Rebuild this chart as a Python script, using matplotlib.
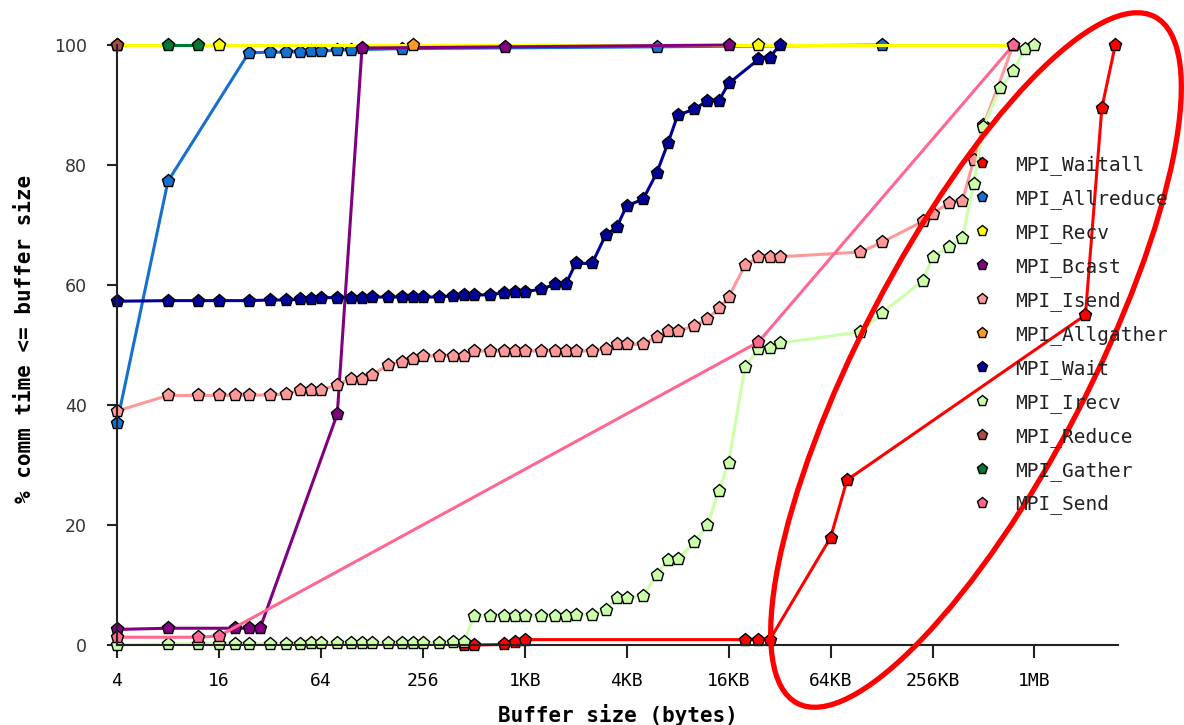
import matplotlib.pyplot as plt
from matplotlib.lines import Line2D
from matplotlib.patches import Ellipse

# buffer sizes (bytes) and % of comm time <= buffer size, per MPI call
waitall_x = [448, 512, 768, 896, 1024, 20480, 24576, 28672, 65536, 81920,
             2097152, 2621440, 3145728]
waitall_y = [0.0, 0.0, 0.1, 0.5, 0.9, 0.9, 0.9, 0.9, 17.9, 27.5, 55.0, 89.5, 100]

allreduce_x = [4, 8, 24, 32, 40, 48, 56, 64, 80, 96, 192, 6144, 131072]
allreduce_y = [37.0, 77.3, 98.7, 98.8, 98.8, 98.9, 99.0, 99.0, 99.1, 99.2,
               99.4, 99.7, 100]

recv_x = [4, 16, 24576, 786432]
recv_y = [100, 100, 100, 100]

bcast_x = [4, 8, 20, 24, 28, 80, 112, 784, 16384]
bcast_y = [2.6, 2.8, 2.8, 2.8, 2.8, 38.5, 99.5, 99.7, 100]

isend_x = [4, 8, 12, 16, 20, 24, 32, 40, 48, 56, 64, 80, 96, 112, 128, 160,
           192, 224, 256, 320, 384, 448, 512, 640, 768, 896, 1024, 1280,
           1536, 1792, 2048, 2560, 3072, 3584, 4096, 5120, 6144, 7168, 8192,
           10240, 12288, 14336, 16384, 20480, 24576, 28672, 32768, 98304,
           131072, 229376, 262144, 327680, 393216, 458752, 524288, 786432]
isend_y = [39.0, 41.6, 41.6, 41.6, 41.6, 41.6, 41.7, 41.8, 42.5, 42.5, 42.5,
           43.4, 44.4, 44.4, 45.0, 46.7, 47.2, 47.6, 48.1, 48.2, 48.2, 48.2,
           49.0, 49.0, 49.0, 49.0, 49.0, 49.0, 49.0, 49.0, 49.0, 49.0, 49.4,
           50.1, 50.1, 50.1, 51.4, 52.3, 52.3, 53.2, 54.4, 56.1, 58.0, 63.3,
           64.7, 64.7, 64.7, 65.5, 67.1, 70.6, 71.9, 73.7, 74.0, 80.8, 86.6, 100]

allgather_x = [224]
allgather_y = [100]

wait_x = [4, 8, 12, 16, 24, 32, 40, 48, 56, 64, 80, 96, 112, 128, 160, 192,
          224, 256, 320, 384, 448, 512, 640, 768, 896, 1024, 1280, 1536, 1792,
          2048, 2560, 3072, 3584, 4096, 5120, 6144, 7168, 8192, 10240, 12288,
          14336, 16384, 24576, 28672, 32768]
wait_y = [57.3, 57.4, 57.4, 57.4, 57.4, 57.5, 57.5, 57.6, 57.6, 57.9, 57.9,
          57.9, 57.9, 58.0, 58.0, 58.0, 58.0, 58.0, 58.0, 58.2, 58.3, 58.3,
          58.4, 58.7, 58.9, 58.9, 59.3, 60.1, 60.2, 63.6, 63.6, 68.3, 69.7,
          73.2, 74.3, 78.6, 83.6, 88.3, 89.3, 90.7, 90.7, 93.6, 97.6, 97.9, 100]

irecv_x = [4, 8, 12, 16, 20, 24, 32, 40, 48, 56, 64, 80, 96, 112, 128, 160,
           192, 224, 256, 320, 384, 448, 512, 640, 768, 896, 1024, 1280, 1536,
           1792, 2048, 2560, 3072, 3584, 4096, 5120, 6144, 7168, 8192, 10240,
           12288, 14336, 16384, 20480, 24576, 28672, 32768, 98304, 131072,
           229376, 262144, 327680, 393216, 458752, 524288, 655360, 786432,
           917504, 1048576]
irecv_y = [0.0, 0.2, 0.2, 0.2, 0.2, 0.2, 0.2, 0.2, 0.2, 0.3, 0.3, 0.3, 0.3,
           0.3, 0.3, 0.3, 0.4, 0.4, 0.4, 0.4, 0.5, 0.5, 4.8, 4.8, 4.8, 4.8,
           4.8, 4.8, 4.8, 4.8, 5.0, 5.0, 5.9, 7.8, 7.9, 8.1, 11.7, 14.2, 14.3,
           17.1, 20.0, 25.7, 30.4, 46.4, 49.4, 49.5, 50.3, 52.2, 55.3, 60.7,
           64.6, 66.4, 67.8, 76.9, 86.4, 92.8, 95.6, 99.4, 100]

reduce_x = [4]
reduce_y = [100]

gather_x = [8, 12]
gather_y = [100, 100]

send_x = [4, 12, 16, 24576, 786432]
send_y = [1.3, 1.3, 1.5, 50.5, 100]

names = ['MPI_Waitall', 'MPI_Allreduce', 'MPI_Recv', 'MPI_Bcast', 'MPI_Isend',
         'MPI_Allgather', 'MPI_Wait', 'MPI_Irecv', 'MPI_Reduce', 'MPI_Gather',
         'MPI_Send']
colors = ['#ff0000', '#1670d0', '#ffff00', '#800080', '#ff9999', '#ff9922',
          '#000099', '#ccffaa', '#a84c48', '#007733', '#ff6690']
series = [(waitall_x, waitall_y), (allreduce_x, allreduce_y), (recv_x, recv_y),
          (bcast_x, bcast_y), (isend_x, isend_y), (allgather_x, allgather_y),
          (wait_x, wait_y), (irecv_x, irecv_y), (reduce_x, reduce_y),
          (gather_x, gather_y), (send_x, send_y)]

tick_pos = [4, 16, 64, 256, 1024, 4096, 16384, 65536, 262144, 1048576]
tick_lab = ['4', '16', '64', '256', '1KB', '4KB', '16KB', '64KB', '256KB', '1MB']

fig = plt.figure(figsize=(11.84, 7.25), dpi=100)
ax = fig.add_axes([0.0988, 0.1103, 0.8455, 0.8276])

for (xs, ys), c in zip(series, colors):
    ax.plot(xs, ys, color=c, lw=2.2, marker='p', ms=9.5, mfc=c, mec='black',
            mew=1.0, clip_on=False)

ax.set_xscale('log', base=2)
ax.set_xlim(4, 2 ** 21.64)
ax.set_ylim(0, 100)
ax.set_xticks(tick_pos)
ax.set_xticklabels(tick_lab, family='DejaVu Sans Mono', fontsize=13)
ax.minorticks_off()
ax.set_yticks(range(0, 101, 20))
for lab in ax.get_yticklabels():
    lab.set_family('DejaVu Sans')
    lab.set_fontsize(12.5)
    lab.set_color('#333333')
ax.tick_params(axis='y', length=7.5, width=1.5, pad=14, color='#222222')
ax.tick_params(axis='x', length=9.5, width=1.5, pad=10, color='#222222')

for s in ['top', 'right']:
    ax.spines[s].set_visible(False)
for s in ['left', 'bottom']:
    ax.spines[s].set_color('#222222')
    ax.spines[s].set_linewidth(1.5)

ax.set_xlabel('Buffer size (bytes)', family='DejaVu Sans Mono',
              fontweight='bold', fontsize=15)
ax.xaxis.set_label_coords(0.5, -0.098)
ax.set_ylabel('% comm time <= buffer size', family='DejaVu Sans Mono',
              fontweight='bold', fontsize=15)
ax.yaxis.set_label_coords(-0.082, 0.51)

handles = [Line2D([], [], ls='none', marker='p', ms=8, mfc=c, mec='black',
                  mew=1.0) for c in colors]
leg = fig.legend(handles, names, loc='upper left',
                 bbox_to_anchor=(0.821, 0.786), frameon=False,
                 prop={'family': 'DejaVu Sans Mono', 'size': 14},
                 handlelength=1.0, handletextpad=1.2, labelspacing=0.72,
                 borderpad=0, borderaxespad=0)
for t in leg.get_texts():
    t.set_color('#222222')

# hand-drawn highlight around the large-buffer region
ring_center = (9.76, 3.65)   # inches
ring_w, ring_h, ring_angle = 7.74, 2.28, 62.5
ring = Ellipse(ring_center, ring_w, ring_h, angle=ring_angle,
               transform=fig.dpi_scale_trans, fill=False, ec='#ff0000',
               lw=3.8, clip_on=False)
fig.add_artist(ring)

fig.savefig('out.png', dpi=100)
